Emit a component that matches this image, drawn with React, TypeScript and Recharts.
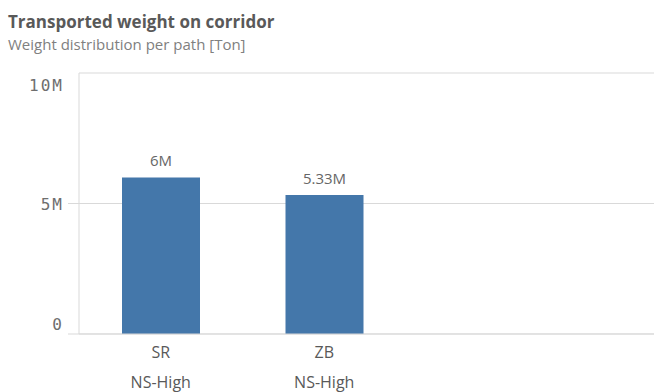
import React from "react";
import { BarChart, Bar, XAxis, YAxis, CartesianGrid, LabelList } from "recharts";

const categories = ["SR", "ZB"];
const paths = ["NS-High", "NS-High"];
const weights = [6000000, 5330000];
const yTicks = [0, 5000000, 10000000];

const data = categories.map((c, i) => ({ category: c, path: paths[i], weight: weights[i] }));

const GRID = "#d9d9d9";
const TEXT = "#595959";
const SANS = "'Open Sans', sans-serif";

function fmtM(v: number) {
  if (v === 0) return "0";
  const m = v / 1000000;
  return `${Math.round(m * 100) / 100}M`;
}

function YTick(props: any) {
  const { x, y, payload } = props;
  const v = payload.value;
  // edge labels are pushed inside the plot, like the original
  let dy = 1;
  if (v === 10000000) dy = 12;
  if (v === 0) dy = -10;
  return (
    <g>
      {v !== 10000000 && <line x1={x + 6} x2={x + 17} y1={y} y2={y} stroke={GRID} />}
      <text
        x={x + 2}
        y={y + dy}
        textAnchor="end"
        dominantBaseline="central"
        fill="#6e6e6e"
        fontSize={16}
        letterSpacing={2}
        fontFamily="DejaVu Sans Mono, monospace"
      >
        {fmtM(v)}
      </text>
    </g>
  );
}

function XTick(props: any) {
  const { x, y, payload, index } = props;
  return (
    <g>
      <text x={x} y={y + 16} textAnchor="middle" fill={TEXT} fontSize={16} fontFamily={SANS}>
        {payload.value}
      </text>
      <text x={x} y={y + 46} textAnchor="middle" fill={TEXT} fontSize={16} fontFamily={SANS}>
        {data[index]?.path}
      </text>
    </g>
  );
}

export default function App() {
  return (
    <div style={{ position: "absolute", left: 0, top: 0, width: 654, height: 392, background: "#fff" }}>
      <div
        style={{
          position: "absolute",
          left: 8,
          top: 10,
          fontFamily: SANS,
          fontWeight: 700,
          fontSize: 17,
          color: TEXT,
          whiteSpace: "nowrap",
        }}
      >
        Transported weight on corridor
      </div>
      <div
        style={{
          position: "absolute",
          left: 8,
          top: 34,
          fontFamily: SANS,
          fontSize: 15,
          color: "#808080",
          whiteSpace: "nowrap",
        }}
      >
        Weight distribution per path [Ton]
      </div>
      <BarChart
        width={654}
        height={392}
        data={data}
        margin={{ top: 73, right: 0, bottom: 0, left: 0 }}
        barCategoryGap={0}
      >
        <CartesianGrid vertical={false} stroke={GRID} />
        <XAxis
          dataKey="category"
          height={58}
          axisLine={{ stroke: GRID }}
          tickLine={false}
          tick={<XTick />}
          padding={{ left: 0, right: 248 }}
          interval={0}
        />
        <YAxis
          width={79}
          domain={[0, 10000000]}
          ticks={yTicks}
          axisLine={{ stroke: GRID }}
          tickLine={false}
          tickSize={11}
          tickMargin={6}
          tick={<YTick />}
          interval={0}
        />
        <Bar dataKey="weight" fill="#4477aa" barSize={78} isAnimationActive={false}>
          <LabelList
            dataKey="weight"
            position="top"
            offset={11}
            formatter={(v: any) => fmtM(Number(v))}
            fill="#666"
            fontSize={15}
            fontFamily={SANS}
          />
        </Bar>
      </BarChart>
    </div>
  );
}
